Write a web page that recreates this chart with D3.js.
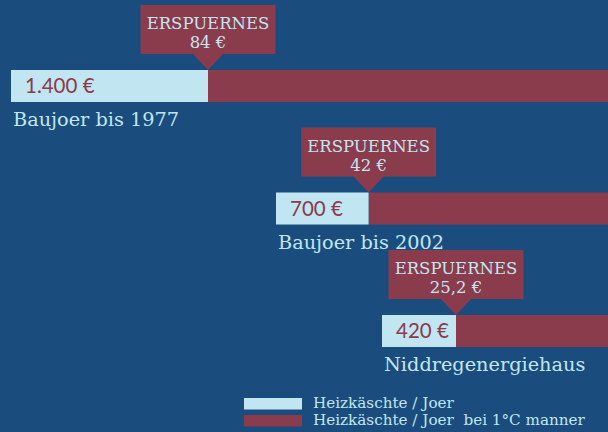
<!DOCTYPE html>
<html>
<head>
<meta charset="utf-8">
<script src="https://cdn.jsdelivr.net/npm/d3@7"></script>
<style>
  body { margin: 0; background: #1a4d7d; }
  svg { display: block; }
</style>
</head>
<body>
<svg id="chart"></svg>
<script>
// Daten
var categories = ["Baujoer bis 1977", "Baujoer bis 2002", "Niddregenergiehaus"];
var heatCost = [1400, 700, 420];
var savings = [84, 42, 25.2];
var legendLabels = ["Heizkäschte / Joer", "Heizkäschte / Joer  bei 1°C manner"];
var calloutTitle = "ERSPUERNES";

var width = 608, height = 432;
var colors = { bg: "#1a4d7d", light: "#c1e5f1", dark: "#8a3b4c", text: "#c3e6f1" };
var slab = "'DejaVu Serif', serif";

var data = categories.map((c, i) => ({ name: c, cost: heatCost[i], saving: savings[i] }));

var de = d3.formatLocale({ decimal: ",", thousands: ".", grouping: [3], currency: ["", " €"] });
var fmt = v => de.format(",~f")(v) + " €";

var svg = d3.select("#chart")
    .attr("width", width)
    .attr("height", height);

svg.append("rect")
    .attr("width", width)
    .attr("height", height)
    .attr("fill", colors.bg);

var barH = 32;
// Zeilen von oben nach unten
var yScale = d3.scalePoint()
    .domain(categories)
    .range([70, 315]);
// linker Rand: je kleiner die Kosten, desto weiter rechts
var startScale = d3.scaleLinear()
    .domain([d3.max(heatCost), d3.min(heatCost)])
    .range([11, 382]);
// Ende vom hellen Teil (Spitze der Sprechblase)
var endScale = d3.scaleSqrt()
    .domain([d3.max(heatCost), d3.min(heatCost)])
    .range([208, 456]);

var rows = svg.selectAll(".row")
    .data(data)
    .enter()
    .append("g")
        .classed("row", true)
        .attr("transform", d => "translate(0," + yScale(d.name) + ")");

// dunkler Teil bis zum Rand
rows.append("rect")
    .attr("x", d => endScale(d.cost))
    .attr("width", d => width - endScale(d.cost))
    .attr("height", barH)
    .attr("fill", colors.dark);

rows.append("rect")
    .attr("x", d => startScale(d.cost))
    .attr("width", d => endScale(d.cost) - startScale(d.cost))
    .attr("height", barH)
    .attr("fill", colors.light);

rows.append("text")
    .attr("x", d => startScale(d.cost) + 14)
    .attr("y", 23)
    .attr("fill", colors.dark)
    .style("font-family", "Lato, sans-serif")
    .style("font-size", "20.5px")
    .text(d => fmt(d.cost));

rows.append("text")
    .attr("x", d => startScale(d.cost) + 2)
    .attr("y", 56)
    .attr("fill", colors.text)
    .style("font-family", slab)
    .style("font-size", "19.3px")
    .text(d => d.name);

// Sprechblase
var callout = rows.append("g")
    .attr("transform", d => "translate(" + endScale(d.cost) + ",0)");

callout.append("rect")
    .attr("x", -67.5)
    .attr("y", -65)
    .attr("width", 135)
    .attr("height", 49)
    .attr("fill", colors.dark);

callout.append("path")
    .attr("d", "M-15.5,-16.5L15.5,-16.5L0,0Z")
    .attr("fill", colors.dark);

callout.append("text")
    .attr("y", -41)
    .attr("text-anchor", "middle")
    .attr("fill", colors.text)
    .style("font-family", slab)
    .style("font-size", "16.5px")
    .text(calloutTitle);

callout.append("text")
    .attr("y", -22)
    .attr("text-anchor", "middle")
    .attr("fill", colors.text)
    .style("font-family", slab)
    .style("font-size", "16.5px")
    .text(d => fmt(d.saving));

// Legende
var legend = svg.selectAll(".legend")
    .data(legendLabels)
    .enter()
    .append("g")
        .classed("legend", true)
        .attr("transform", (d, i) => "translate(244," + (398 + i * 17) + ")");

legend.append("rect")
    .attr("width", 58)
    .attr("height", 11.5)
    .attr("fill", (d, i) => i === 0 ? colors.light : colors.dark);

legend.append("text")
    .attr("x", 69)
    .attr("y", 10)
    .attr("fill", colors.text)
    .style("font-family", slab)
    .style("font-size", "15.2px")
    .style("white-space", "pre")
    .text(d => d);
</script>
</body>
</html>
